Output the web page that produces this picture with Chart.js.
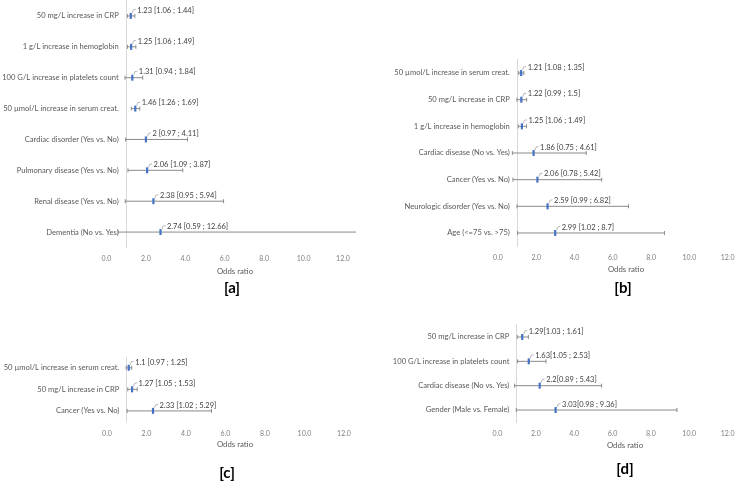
<!DOCTYPE html>
<html>
<head>
<meta charset="utf-8">
<script src="https://cdn.jsdelivr.net/npm/chart.js@4.4.1/dist/chart.umd.min.js"></script>
<style>
  body { margin:0; background:#fff; width:742px; height:481px; overflow:hidden; position:relative; font-family:Lato, sans-serif; }
  canvas { position:absolute; }
  .txt { position:absolute; transform:translate(-50%, -50%); white-space:nowrap; line-height:1; }
  .axis-title { font-size:7.8px; color:#595959; }
  .panel-tag { font-size:15px; font-weight:bold; color:#000; }
</style>
</head>
<body>
<canvas id="chart-a" width="371" height="285" style="left:0;top:-10px"></canvas>
<canvas id="chart-b" width="371" height="275" style="left:371px;top:0"></canvas>
<canvas id="chart-c" width="371" height="181" style="left:0;top:300px"></canvas>
<canvas id="chart-d" width="371" height="181" style="left:371px;top:300px"></canvas>

<div class="txt axis-title" style="left:235px;top:271.7px">Odds ratio</div>
<div class="txt axis-title" style="left:626px;top:270px">Odds ratio</div>
<div class="txt axis-title" style="left:235px;top:444.7px">Odds ratio</div>
<div class="txt axis-title" style="left:625px;top:446px">Odds ratio</div>
<div class="txt panel-tag" style="left:232px;top:287px">[a]</div>
<div class="txt panel-tag" style="left:623px;top:287px">[b]</div>
<div class="txt panel-tag" style="left:227px;top:472px">[c]</div>
<div class="txt panel-tag" style="left:625px;top:468px">[d]</div>

<script>
// [a]
const rowsA = ['50 mg/L increase in CRP', '1 g/L increase in hemoglobin', '100 G/L increase in platelets count',
  '50 µmol/L increase in serum creat.', 'Cardiac disorder (Yes vs. No)', 'Pulmonary disease (Yes vs. No)',
  'Renal disease (Yes vs. No)', 'Dementia (No vs. Yes)'];
const orA = [1.23, 1.25, 1.31, 1.46, 2, 2.06, 2.38, 2.74];
const loA = [1.06, 1.06, 0.94, 1.26, 0.97, 1.09, 0.95, 0.59];
const hiA = [1.44, 1.49, 1.84, 1.69, 4.11, 3.87, 5.94, 12.66];

// [b]
const rowsB = ['50 µmol/L increase in serum creat.', '50 mg/L increase in CRP', '1 g/L increase in hemoglobin',
  'Cardiac disease (No vs. Yes)', 'Cancer (Yes vs. No)', 'Neurologic disorder (Yes vs. No)', 'Age (<=75 vs. >75)'];
const orB = [1.21, 1.22, 1.25, 1.86, 2.06, 2.59, 2.99];
const loB = [1.08, 0.99, 1.06, 0.75, 0.78, 0.99, 1.02];
const hiB = [1.35, 1.5, 1.49, 4.61, 5.42, 6.82, 8.7];

// [c]
const rowsC = ['50 µmol/L increase in serum creat.', '50 mg/L increase in CRP', 'Cancer (Yes vs. No)'];
const orC = [1.1, 1.27, 2.33];
const loC = [0.97, 1.05, 1.02];
const hiC = [1.25, 1.53, 5.29];

// [d]
const rowsD = ['50 mg/L increase in CRP', '100 G/L increase in platelets count', 'Cardiac disease (No vs. Yes)',
  'Gender (Male vs. Female)'];
const orD = [1.29, 1.63, 2.2, 3.03];
const loD = [1.03, 1.05, 0.89, 0.98];
const hiD = [1.61, 2.53, 5.43, 9.36];

const xTicks = [0, 2, 4, 6, 8, 10, 12];

// labels "OR [lo ; hi]" next to each point, with a small leader line
const orLabels = {
  id: 'orLabels',
  afterDatasetsDraw(chart) {
    const ds = chart.data.datasets[0];
    const ctx = chart.ctx;
    ctx.save();
    ctx.font = '7.5px Lato';
    ctx.fillStyle = '#404040';
    ctx.textBaseline = 'middle';
    ctx.textAlign = 'left';
    ctx.strokeStyle = '#a6a6a6';
    ctx.lineWidth = 0.8;
    chart.getDatasetMeta(0).data.forEach((pt, i) => {
      ctx.beginPath();
      ctx.moveTo(pt.x + 1.5, pt.y - 3);
      ctx.lineTo(pt.x + 2.5, pt.y - 6);
      ctx.lineTo(pt.x + 5, pt.y - 6.5);
      ctx.stroke();
      ctx.fillText(ds.orText[i], pt.x + 6.5, pt.y - 5.7);
    });
    ctx.restore();
  }
};

function makePanel(id, rows, or, lo, hi, sep, area) {
  const bars = [];
  rows.forEach((r, i) => {
    bars.push({x: lo[i], y: r}, {x: hi[i], y: r}, {x: null, y: null});
  });

  const canvas = document.getElementById(id);
  const pad = {left: area.left, right: canvas.width - area.right, top: area.top, bottom: canvas.height - area.bottom - 16};

  const chart = new Chart(canvas, {
    type: 'scatter',
    data: {
      datasets: [{
        data: rows.map((r, i) => ({x: or[i], y: r})),
        orText: rows.map((r, i) => or[i] + sep + '[' + lo[i] + ' ; ' + hi[i] + ']'),
        pointStyle: 'line',
        pointRotation: 90,
        pointRadius: 3,
        pointBorderWidth: 2.2,
        pointBorderColor: '#4472C4',
        pointBackgroundColor: '#4472C4',
        clip: false
      }, {
        data: bars,
        showLine: true,
        borderColor: '#8a8a8a',
        borderWidth: 1,
        pointStyle: 'line',
        pointRotation: 90,
        pointRadius: 2,
        pointBorderWidth: 1,
        pointBorderColor: '#8a8a8a',
        clip: false
      }]
    },
    options: {
      responsive: false,
      animation: false,
      devicePixelRatio: 1,
      layout: {padding: pad},
      plugins: {legend: {display: false}, tooltip: {enabled: false}},
      scales: {
        x: {
          type: 'linear', min: 0, max: 12,
          afterBuildTicks: s => { s.ticks = xTicks.map(v => ({value: v})); },
          ticks: {callback: v => v.toFixed(1), font: {family: 'Lato', size: 7}, color: '#7f7f7f', padding: 7.5, maxRotation: 0, autoSkip: false},
          grid: {display: false, drawTicks: false},
          border: {display: false}
        },
        // vertical axis line crossing at OR = 1
        y: {
          type: 'category', labels: rows, offset: true,
          position: {x: 1},
          afterFit: s => { s.width = 0; },
          ticks: {display: false},
          grid: {color: 'transparent', drawTicks: false},
          border: {color: '#d9d9d9', width: 1}
        },
        // row labels, right-aligned a little left of the OR = 1 line
        yl: {
          type: 'category', labels: rows, offset: true,
          position: {x: 0.62},
          afterFit: s => { s.width = 0; },
          ticks: {font: {family: 'Lato', size: 7.6}, color: '#595959', padding: 0},
          grid: {display: false, drawTicks: false},
          border: {display: false}
        }
      }
    },
    plugins: [orLabels]
  });

  // nudge the padding until the plot area sits where the reference has it
  for (let k = 0; k < 4; k++) {
    const a = chart.chartArea;
    pad.left += area.left - a.left;
    pad.right += a.right - area.right;
    pad.top += area.top - a.top;
    pad.bottom += a.bottom - area.bottom;
    chart.options.layout.padding = {...pad};
    chart.update('none');
  }
  return chart;
}

document.fonts.load('8px Lato').then(() => {
  makePanel('chart-a', rowsA, orA, loA, hiA, ' ', {left: 106.5, right: 343, top: 10.5, bottom: 257.5});
  makePanel('chart-b', rowsB, orB, loB, hiB, ' ', {left: 127, right: 361, top: 59.7, bottom: 246.3});
  makePanel('chart-c', rowsC, orC, loC, hiC, ' ', {left: 107, right: 344, top: 57, bottom: 121.7});
  makePanel('chart-d', rowsD, orD, loD, hiD, '', {left: 126.5, right: 362, top: 24.8, bottom: 122.2});
});
</script>
</body>
</html>
